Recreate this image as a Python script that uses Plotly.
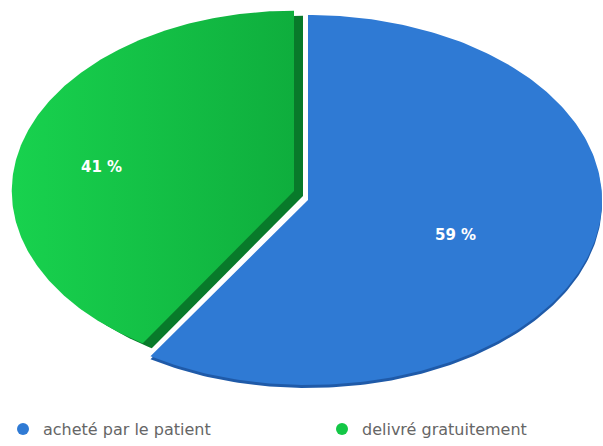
import numpy as np
import plotly.graph_objects as go

# ---- data ----
labels = ["acheté par le patient", "delivré gratuitement"]
values = [59, 41]
value_texts = ["59 %", "41 %"]

# ---- style ----
colors = ["#2f7ad4", "#13c746"]
gradients = [None, [[0, "#18d24e"], [1, "#0fae3d"]]]
rim_colors = ["#1f5aa8", "#087a2a"]
rim_shift = [(0, 3), (9, 5)]
pull_xy = [(0, 0), (-14, -9)]
radius_scale = [(1.0, 1.0), (0.96, 0.975)]
label_frac = [0.524, 0.71]
label_dy = [8, 12]
legend_ids = ["legend", "legend2"]
legend_x = [3, 322]
W, H = 603, 446
CX, CY, RX, RY = 308, 200, 294, 185

total = sum(values)
fig = go.Figure()
start = 0.0
annots = []
for i, (lab, v) in enumerate(zip(labels, values)):
    a0 = start
    a1 = start + 360.0 * v / total
    start = a1
    mid = np.radians((a0 + a1) / 2)
    cx = CX + pull_xy[i][0]
    cy = CY + pull_xy[i][1]
    rx = RX * radius_scale[i][0]
    ry = RY * radius_scale[i][1]
    t = np.radians(np.linspace(a0, a1, 240))
    xs = np.concatenate([[cx], cx + rx * np.sin(t), [cx]])
    ys = np.concatenate([[cy], cy - ry * np.cos(t), [cy]])
    sx, sy = rim_shift[i]
    fig.add_trace(go.Scatter(x=xs + sx, y=ys + sy, fill="toself", mode="lines",
                             line=dict(width=0), fillcolor=rim_colors[i],
                             showlegend=False, hoverinfo="skip"))
    kw = {}
    if gradients[i] is not None:
        kw["fillgradient"] = dict(type="horizontal", colorscale=gradients[i])
    fig.add_trace(go.Scatter(x=xs, y=ys, fill="toself", mode="lines",
                             line=dict(width=0), fillcolor=colors[i],
                             showlegend=False, hoverinfo="skip", **kw))
    annots.append(dict(x=cx + label_frac[i] * rx * np.sin(mid),
                       y=cy - label_frac[i] * ry * np.cos(mid) + label_dy[i],
                       text=value_texts[i], showarrow=False,
                       font=dict(color="white", size=15, family="DejaVu Sans",
                                 weight="bold")))

for i, lab in enumerate(labels):
    fig.add_trace(go.Scatter(x=[None], y=[None], mode="markers", name=lab,
                             legend=legend_ids[i],
                             marker=dict(symbol="circle", size=12, color=colors[i])))

legend_style = dict(orientation="h", yanchor="bottom", y=0.0, xanchor="left",
                    font=dict(size=16, color="#666666", family="DejaVu Sans"),
                    bgcolor="rgba(0,0,0,0)")

fig.update_layout(
    width=W, height=H,
    margin=dict(l=0, r=0, t=0, b=0),
    paper_bgcolor="white", plot_bgcolor="white",
    xaxis=dict(range=[0, W], visible=False, fixedrange=True),
    yaxis=dict(range=[H, 0], visible=False, fixedrange=True),
    annotations=annots,
    legend=dict(x=legend_x[0] / W, **legend_style),
    legend2=dict(x=legend_x[1] / W, **legend_style),
    showlegend=True,
)

fig.write_html("out.html", config={"displayModeBar": False},
               post_script="document.body.style.margin='0px';")
